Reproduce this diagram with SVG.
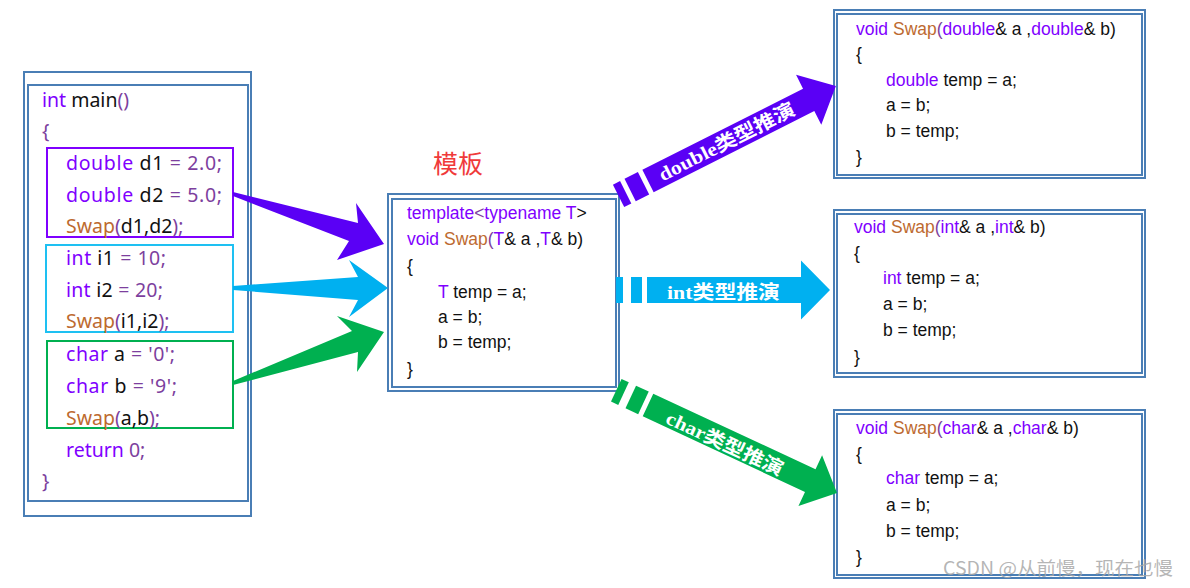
<svg xmlns="http://www.w3.org/2000/svg" width="1190" height="588" viewBox="0 0 1190 588">
<style>
.frame{fill:none;stroke:#4a7eb5;stroke-width:2}
.c1{font-family:"Noto Sans","Liberation Sans",sans-serif;font-size:19.5px;fill:#111}
.c2{font-family:"Liberation Sans",Arial,sans-serif;font-size:17.5px;fill:#111}
.kw{fill:#8000ff}
.fn{fill:#bd6a30}
.op{fill:#7d3f9e}
.al{font-family:"Liberation Serif","Noto Sans CJK SC",serif;font-size:19px;font-weight:bold;fill:#fff}
</style>
<rect width="1190" height="588" fill="#fff"/>

<g id="main">
  <rect class="frame" x="24" y="72" width="227" height="444"/>
  <rect class="frame" x="28" y="85" width="220" height="416"/>
  <rect x="47" y="148" width="186" height="89" fill="none" stroke="#7f00ff" stroke-width="2"/>
  <rect x="46" y="245" width="187" height="87" fill="none" stroke="#1ec0f2" stroke-width="2"/>
  <rect x="47" y="341" width="186" height="87" fill="none" stroke="#00b050" stroke-width="2"/>
  <text class="c1" x="42" y="107"><tspan class="kw">int</tspan> main<tspan class="op">()</tspan></text>
  <text class="c1 op" x="42" y="138">{</text>
  <text class="c1" x="66" y="170" textLength="156" lengthAdjust="spacing"><tspan class="kw">double</tspan> d1 <tspan class="op">= 2.0;</tspan></text>
  <text class="c1" x="66" y="202" textLength="156" lengthAdjust="spacing"><tspan class="kw">double</tspan> d2 <tspan class="op">= 5.0;</tspan></text>
  <text class="c1" x="66" y="233"><tspan class="fn">Swap</tspan><tspan class="op">(</tspan>d1,d2<tspan class="op">);</tspan></text>
  <text class="c1" x="66" y="265" textLength="100" lengthAdjust="spacing"><tspan class="kw">int</tspan> i1 <tspan class="op">= 10;</tspan></text>
  <text class="c1" x="66" y="297" textLength="97" lengthAdjust="spacing"><tspan class="kw">int</tspan> i2 <tspan class="op">= 20;</tspan></text>
  <text class="c1" x="66" y="328"><tspan class="fn">Swap</tspan><tspan class="op">(</tspan>i1,i2<tspan class="op">);</tspan></text>
  <text class="c1" x="66" y="361" textLength="109" lengthAdjust="spacing"><tspan class="kw">char</tspan> a <tspan class="op">= '0';</tspan></text>
  <text class="c1" x="66" y="393" textLength="111" lengthAdjust="spacing"><tspan class="kw">char</tspan> b <tspan class="op">= '9';</tspan></text>
  <text class="c1" x="66" y="425"><tspan class="fn">Swap</tspan><tspan class="op">(</tspan>a,b<tspan class="op">);</tspan></text>
  <text class="c1" x="66" y="457"><tspan class="kw">return</tspan> <tspan class="op">0;</tspan></text>
  <text class="c1 op" x="42" y="488">}</text>
</g>

<g id="template">
  <text x="433" y="173" font-family="'Noto Sans CJK SC',sans-serif" font-size="25" fill="#f03a3a">模板</text>
  <rect class="frame" x="388" y="194" width="231" height="197"/>
  <rect class="frame" x="392" y="199" width="224" height="188"/>
  <text class="c2" x="407" y="219"><tspan class="kw">template</tspan><tspan class="op">&lt;</tspan><tspan class="kw">typename T</tspan>&gt;</text>
  <text class="c2" x="407" y="245"><tspan class="kw">void</tspan> <tspan class="fn">Swap</tspan><tspan class="op">(</tspan><tspan class="kw">T</tspan>&amp; a ,<tspan class="kw">T</tspan>&amp; b)</text>
  <text class="c2" x="407" y="272">{</text>
  <text class="c2" x="438" y="298"><tspan class="kw">T</tspan> temp = a;</text>
  <text class="c2" x="438" y="323">a = b;</text>
  <text class="c2" x="438" y="348">b = temp;</text>
  <text class="c2" x="407" y="375">}</text>
</g>

<g id="swap-double">
  <rect class="frame" x="834" y="10" width="311" height="168"/>
  <rect class="frame" x="837" y="14" width="305" height="161"/>
  <text class="c2" x="856" y="35"><tspan class="kw">void</tspan> <tspan class="fn">Swap</tspan><tspan class="op">(</tspan><tspan class="kw">double</tspan>&amp; a ,<tspan class="kw">double</tspan>&amp; b)</text>
  <text class="c2" x="856" y="60">{</text>
  <text class="c2" x="886" y="86"><tspan class="kw">double</tspan> temp = a;</text>
  <text class="c2" x="886" y="111">a = b;</text>
  <text class="c2" x="886" y="137">b = temp;</text>
  <text class="c2" x="856" y="163">}</text>
</g>

<g id="swap-int">
  <rect class="frame" x="834" y="210" width="311" height="167"/>
  <rect class="frame" x="837" y="214" width="305" height="159"/>
  <text class="c2" x="854" y="233"><tspan class="kw">void</tspan> <tspan class="fn">Swap</tspan><tspan class="op">(</tspan><tspan class="kw">int</tspan>&amp; a ,<tspan class="kw">int</tspan>&amp; b)</text>
  <text class="c2" x="854" y="259">{</text>
  <text class="c2" x="883" y="284"><tspan class="kw">int</tspan> temp = a;</text>
  <text class="c2" x="883" y="310">a = b;</text>
  <text class="c2" x="883" y="336">b = temp;</text>
  <text class="c2" x="854" y="363">}</text>
</g>

<g id="swap-char">
  <rect class="frame" x="834" y="410" width="311" height="168"/>
  <rect class="frame" x="837" y="414" width="305" height="161"/>
  <text class="c2" x="856" y="434"><tspan class="kw">void</tspan> <tspan class="fn">Swap</tspan><tspan class="op">(</tspan><tspan class="kw">char</tspan>&amp; a ,<tspan class="kw">char</tspan>&amp; b)</text>
  <text class="c2" x="856" y="460">{</text>
  <text class="c2" x="886" y="484"><tspan class="kw">char</tspan> temp = a;</text>
  <text class="c2" x="886" y="511">a = b;</text>
  <text class="c2" x="886" y="537">b = temp;</text>
  <text class="c2" x="856" y="563">}</text>
</g>

<g id="connectors">
  <polygon fill="#5a00f5" points="233,192 358,223 356,203 384,244 337,260 349,241 233,196"/>
  <polygon fill="#00b0f0" points="233,286 358,277 349,260 388,288 349,317 358,300 233,290"/>
  <polygon fill="#00b050" points="233,381 352,331 337,316 384,332 357,372 358,352 233,385"/>

  <g transform="translate(648,181) rotate(-26.8)">
    <rect x="-33" y="-12.5" width="8" height="25" fill="#5a00f5"/>
    <rect x="-20" y="-12.5" width="15" height="25" fill="#5a00f5"/>
    <polygon fill="#5a00f5" points="0,-12.5 180,-12.5 180,-28 210.5,0 180,28 180,12.5 0,12.5"/>
    <text class="al" x="88" y="7" text-anchor="middle" textLength="150" lengthAdjust="spacingAndGlyphs">double类型推演</text>
  </g>
  <g transform="translate(647,290)">
    <rect x="-31" y="-13" width="7" height="26" fill="#00b0f0"/>
    <rect x="-16" y="-13" width="11" height="26" fill="#00b0f0"/>
    <polygon fill="#00b0f0" points="0,-13 154,-13 154,-29.5 183,0 154,29.5 154,13 0,13"/>
    <text class="al" x="76.5" y="9" text-anchor="middle" textLength="113" lengthAdjust="spacingAndGlyphs">int类型推演</text>
  </g>
  <g transform="translate(648,405) rotate(24.97)">
    <rect x="-35" y="-12.5" width="8" height="25" fill="#00b050"/>
    <rect x="-19" y="-12.5" width="14" height="25" fill="#00b050"/>
    <polygon fill="#00b050" points="0,-12.5 179,-12.5 179,-28 208.5,0 179,28 179,12.5 0,12.5"/>
    <text class="al" x="86" y="9" text-anchor="middle" textLength="127" lengthAdjust="spacingAndGlyphs">char类型推演</text>
  </g>
</g>

<text x="943" y="575" font-family="'Noto Sans CJK SC',sans-serif" font-size="18" fill="#a8a8a8" fill-opacity="0.85" textLength="230" lengthAdjust="spacingAndGlyphs">CSDN @从前慢，现在也慢</text>
</svg>
